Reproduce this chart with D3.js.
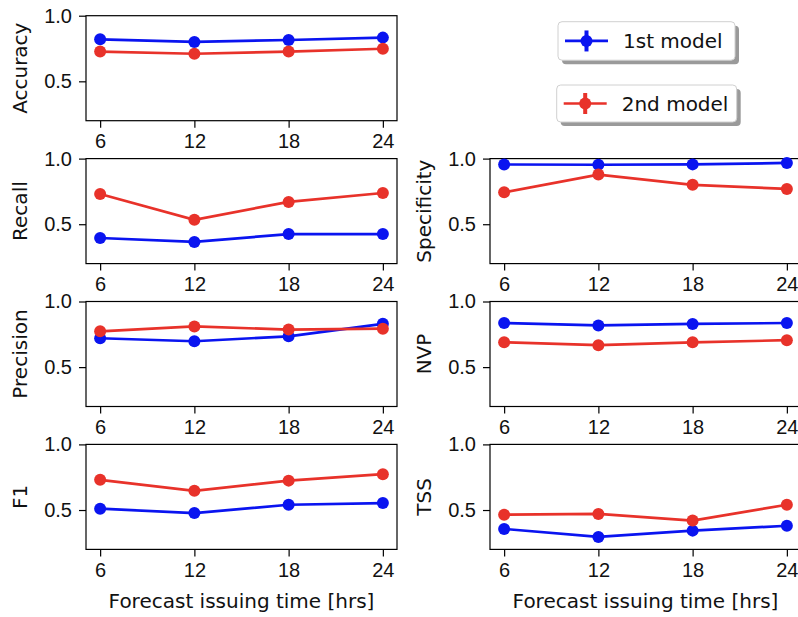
<!DOCTYPE html>
<html>
<head>
<meta charset="utf-8">
<script src="https://cdn.jsdelivr.net/npm/d3@7"></script>
<style>
  body { margin: 0; background: #fff; }
  svg { font-family: "DejaVu Sans", sans-serif; }
</style>
</head>
<body>
<svg id="chart"></svg>
<script>
// DATA
const hours = [6, 12, 18, 24];
const yTicks = [0.5, 1.0];
const modelNames = ["1st model", "2nd model"];
const colors = ["#0a14f0", "#e8322a"];

const accuracy1 = [0.82, 0.80, 0.815, 0.833];
const accuracy2 = [0.727, 0.71, 0.727, 0.748];
const recall1 = [0.395, 0.365, 0.425, 0.425];
const recall2 = [0.73, 0.534, 0.67, 0.738];
const specificity1 = [0.955, 0.953, 0.956, 0.967];
const specificity2 = [0.743, 0.878, 0.80, 0.769];
const precision1 = [0.72, 0.697, 0.735, 0.83];
const precision2 = [0.773, 0.81, 0.786, 0.793];
const nvp1 = [0.836, 0.818, 0.829, 0.836];
const nvp2 = [0.69, 0.667, 0.689, 0.705];
const f1_1 = [0.51, 0.477, 0.54, 0.553];
const f1_2 = [0.73, 0.646, 0.724, 0.773];
const tss1 = [0.356, 0.295, 0.343, 0.38];
const tss2 = [0.464, 0.47, 0.42, 0.54];

// panel list: name, grid row, grid col, series
const panels = [
  { name: "Accuracy", row: 0, col: 0, series: [accuracy1, accuracy2] },
  { name: "Recall", row: 1, col: 0, series: [recall1, recall2] },
  { name: "Specificity", row: 1, col: 1, series: [specificity1, specificity2] },
  { name: "Precision", row: 2, col: 0, series: [precision1, precision2] },
  { name: "NVP", row: 2, col: 1, series: [nvp1, nvp2] },
  { name: "F1", row: 3, col: 0, series: [f1_1, f1_2] },
  { name: "TSS", row: 3, col: 1, series: [tss1, tss2] }
];

const W = 798, H = 617;
const fs = "20px";
const colX = [86, 490];
const rowY = [15.7, 158.6, 301.5, 444.4];
const pw = 311, ph = 105;

const svg = d3.select("#chart")
  .attr("width", W)
  .attr("height", H);

const x = d3.scaleLinear().domain([5.1, 24.9]).range([0, pw]);
const y = d3.scaleLinear().domain([0.2, 1.0]).range([ph, 0]);

const line = d3.line()
  .x((d, i) => x(hours[i]))
  .y(d => y(d));

panels.forEach(p => {
  const g = svg.append("g")
    .attr("transform", `translate(${colX[p.col]}, ${rowY[p.row]})`);

  // AXES
  const xa = g.append("g")
    .attr("transform", `translate(0, ${ph})`)
    .call(d3.axisBottom(x).tickValues(hours).tickSize(7).tickPadding(6));
  const ya = g.append("g")
    .call(d3.axisLeft(y).tickValues(yTicks).tickFormat(d3.format(".1f")).tickSize(7).tickPadding(7));

  [xa, ya].forEach(a => {
    a.select(".domain").remove();
    a.selectAll("line").attr("stroke", "#000").attr("stroke-width", 1.2);
    a.selectAll("text").attr("fill", "#111").style("font-size", fs);
  });

  // frame
  g.append("rect")
    .attr("width", pw)
    .attr("height", ph)
    .attr("fill", "none")
    .attr("stroke", "#000")
    .attr("stroke-width", 1.2);

  // y label
  g.append("text")
    .attr("transform", `translate(-66, ${ph / 2}) rotate(-90)`)
    .attr("text-anchor", "middle")
    .attr("dominant-baseline", "central")
    .style("font-size", fs)
    .attr("fill", "#111")
    .text(p.name);

  if (p.row === 3) {
    g.append("text")
      .attr("x", pw / 2)
      .attr("y", ph + 59)
      .attr("text-anchor", "middle")
      .style("font-size", fs)
      .attr("fill", "#111")
      .text("Forecast issuing time [hrs]");
  }

  // LINES & MARKERS
  p.series.forEach((s, k) => {
    g.append("path")
      .datum(s)
      .attr("d", line)
      .attr("fill", "none")
      .attr("stroke", colors[k])
      .attr("stroke-width", 2.7);

    g.selectAll(`.pt${k}`)
      .data(s)
      .enter()
      .append("circle")
      .attr("cx", (d, i) => x(hours[i]))
      .attr("cy", d => y(d))
      .attr("r", 6)
      .attr("fill", colors[k]);
  });
});

// LEGENDS (two separate boxes)
const legendBoxes = [
  { x: 558, y: 21.7, w: 177, h: 38.5 },
  { x: 556.7, y: 85, w: 180, h: 37 }
];

legendBoxes.forEach((b, k) => {
  const lg = svg.append("g").attr("transform", `translate(${b.x}, ${b.y})`);
  lg.append("rect")
    .attr("x", 4).attr("y", 4)
    .attr("width", b.w).attr("height", b.h)
    .attr("rx", 4)
    .attr("fill", "#9a9a9a");
  lg.append("rect")
    .attr("width", b.w).attr("height", b.h)
    .attr("rx", 4)
    .attr("fill", "#fff")
    .attr("stroke", "#d0d0d0")
    .attr("stroke-width", 1);

  const cy = b.h / 2;
  lg.append("line")
    .attr("x1", 7).attr("x2", 50)
    .attr("y1", cy).attr("y2", cy)
    .attr("stroke", colors[k])
    .attr("stroke-width", 2.7);
  lg.append("line")
    .attr("x1", 28.5).attr("x2", 28.5)
    .attr("y1", cy - 10.5).attr("y2", cy + 10.5)
    .attr("stroke", colors[k])
    .attr("stroke-width", 4);
  lg.append("circle")
    .attr("cx", 28.5).attr("cy", cy)
    .attr("r", 6)
    .attr("fill", colors[k]);
  lg.append("text")
    .attr("x", 65)
    .attr("y", cy)
    .attr("dominant-baseline", "central")
    .style("font-size", fs)
    .attr("fill", "#111")
    .text(modelNames[k]);
});
</script>
</body>
</html>
